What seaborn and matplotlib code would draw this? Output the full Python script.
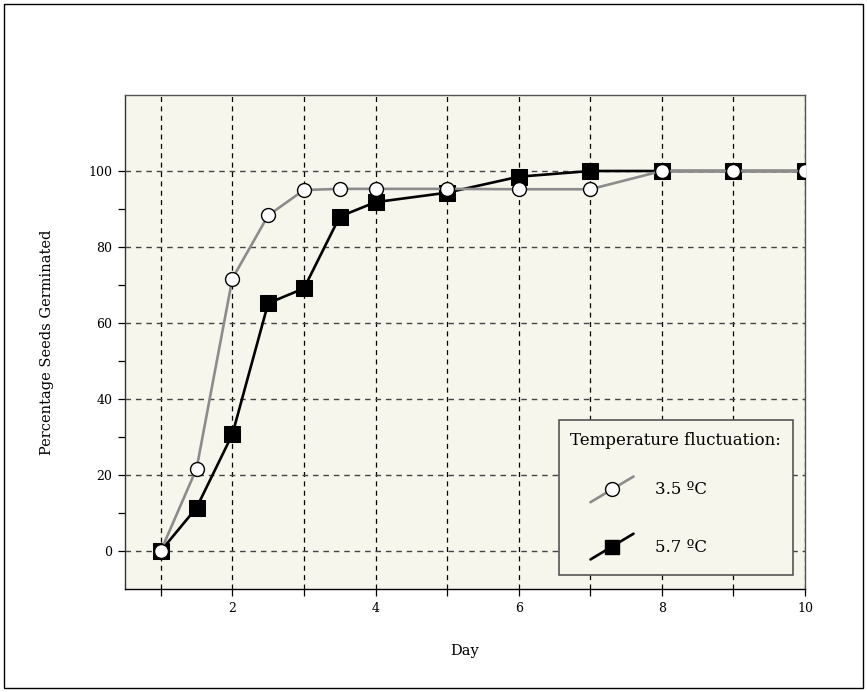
import numpy as np
import pandas as pd
import matplotlib
matplotlib.use('Agg')
import matplotlib.pyplot as plt
from matplotlib.lines import Line2D
from matplotlib.legend_handler import HandlerBase
from matplotlib.patches import Rectangle
import seaborn as sns

# data
days = [1, 1.5, 2, 2.5, 3, 3.5, 4, 5, 6, 7, 8, 9, 10]
germ_35 = [0, 21.7, 71.7, 88.3, 95.0, 95.3, 95.3, 95.3, 95.2, 95.2, 100, 100, 100]
germ_57 = [0, 11.4, 30.7, 65.2, 69.1, 88.0, 91.8, 94.3, 98.5, 100, 100, 100, 100]
labels = ['3.5 ºC', '5.7 ºC']
x_ticks = [2, 4, 6, 8, 10]
y_ticks = [0, 20, 40, 60, 80, 100]

sns.set_style('ticks')
plt.rcParams['font.family'] = ['DejaVu Serif']
plt.rcParams['text.color'] = 'black'
plt.rcParams['axes.labelcolor'] = 'black'
plt.rcParams['xtick.color'] = 'black'
plt.rcParams['ytick.color'] = 'black'

bg = '#f7f6ec'
grey_line = '#8c8c8c'

fig = plt.figure(figsize=(8.67, 6.92), dpi=100)
ax = fig.add_axes([125 / 867, 1 - 589 / 692, 680 / 867, 494 / 692])
ax.set_facecolor(bg)

df57 = pd.DataFrame({'day': days, 'pct': germ_57})
df35 = pd.DataFrame({'day': days, 'pct': germ_35})

sns.lineplot(data=df57, x='day', y='pct', ax=ax, color='black', lw=1.9,
             marker='s', markersize=11.5, markerfacecolor='black',
             markeredgecolor='black', zorder=3)
sns.lineplot(data=df35, x='day', y='pct', ax=ax, color=grey_line, lw=1.9,
             marker='o', markersize=10, markerfacecolor='white',
             markeredgecolor='black', markeredgewidth=1.0, zorder=4)

ax.set_xlim(0.5, 10)
ax.set_ylim(-10, 120)

# grid
for d in range(1, 11):
    ax.axvline(d, color='black', lw=0.9, ls=(0, (4, 3.5)), zorder=1)
for v in y_ticks:
    ax.axhline(v, color='#444444', lw=1.0, ls=(0, (4, 3.5)), zorder=1)

ax.set_xticks(range(1, 11))
ax.set_xticklabels([str(d) if d in x_ticks else '' for d in range(1, 11)])
ax.set_yticks(y_ticks)
ax.set_yticks([10, 30, 50, 70, 90], minor=True)
ax.tick_params(axis='both', which='both', direction='out', length=5,
               width=0.9, color='black', labelsize=9, pad=4)

for s in ax.spines.values():
    s.set_color('#555555')
    s.set_linewidth(1.0)
ax.spines['left'].set_color('#333333')
ax.spines['bottom'].set_color('black')

ax.set_xlabel('Day', fontsize=10.5, labelpad=21)
ax.set_ylabel('Percentage Seeds Germinated', fontsize=10.5, labelpad=25)


class DiagHandler(HandlerBase):
    def __init__(self, color, marker, mfc, ms):
        super().__init__()
        self.color = color
        self.marker = marker
        self.mfc = mfc
        self.ms = ms

    def create_artists(self, legend, orig_handle, xdescent, ydescent,
                       width, height, fontsize, trans):
        x0 = -xdescent + 0.32 * width
        x1 = -xdescent + width
        yc = -ydescent + 0.5 * height
        y0, y1 = yc - 0.38 * height, yc + 0.38 * height
        line = Line2D([x0, x1], [y0, y1], color=self.color, lw=1.9,
                      transform=trans)
        mk = Line2D([(x0 + x1) / 2], [yc], marker=self.marker,
                    markersize=self.ms, markerfacecolor=self.mfc,
                    markeredgecolor='black', markeredgewidth=1.0,
                    ls='none', transform=trans)
        return [line, mk]


h35 = Rectangle((0, 0), 1, 1)
h57 = Rectangle((0, 0), 1, 1)
leg = ax.legend([h35, h57], labels, title='Temperature fluctuation:',
                loc='lower right', bbox_to_anchor=(0.982, 0.028),
                handler_map={h35: DiagHandler(grey_line, 'o', 'white', 10),
                             h57: DiagHandler('black', 's', 'black', 10.5)},
                handlelength=3.8, handleheight=2.75, handletextpad=1.3,
                labelspacing=1.4, borderpad=0.7, fontsize=12,
                title_fontsize=12, frameon=True, fancybox=False,
                borderaxespad=0)
leg.get_frame().set_facecolor(bg)
leg.get_frame().set_edgecolor('#555555')
leg.get_frame().set_linewidth(1.2)
leg.get_frame().set_alpha(1)
leg._legend_box.align = 'left'

# frame around whole figure
fig.patches.append(Rectangle((4 / 867, 4 / 692), 1 - 8 / 867, 1 - 8 / 692,
                             transform=fig.transFigure, fill=False,
                             edgecolor='black', lw=1.0))

fig.savefig('out.png', dpi=100)
